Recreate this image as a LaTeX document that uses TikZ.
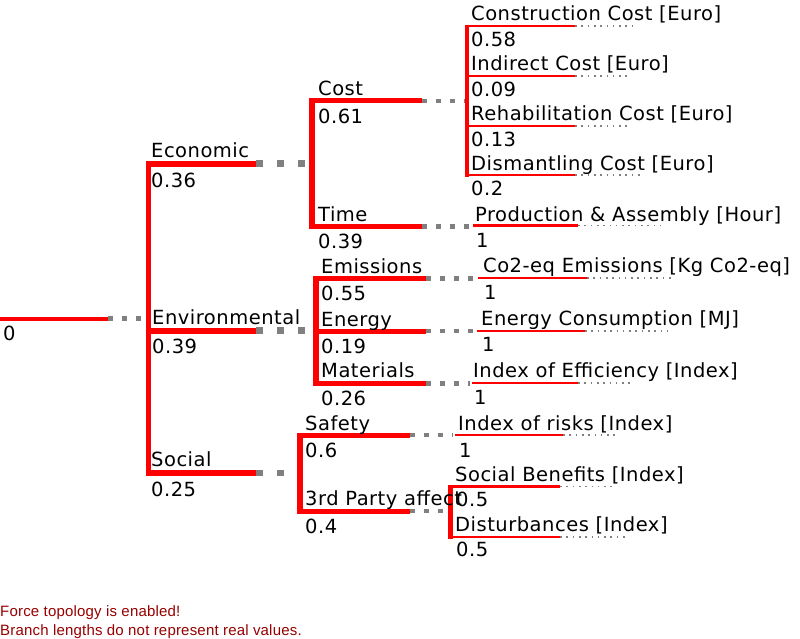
\documentclass[tikz,border=0pt]{standalone}
\usepackage{fontspec}
\setmainfont{DejaVu Sans}[LetterSpace=2.6]
\newfontfamily\notefont{Liberation Sans}[LetterSpace=1.3]
\definecolor{tred}{RGB}{255,0,0}
\definecolor{tgray}{RGB}{128,128,128}
\definecolor{notered}{RGB}{150,0,0}
\begin{document}
\begin{tikzpicture}[x=1pt,y=-1pt,
  lbl/.style={anchor=base west, inner sep=0pt, font=\fontsize{19.5}{23}\selectfont},
  note/.style={anchor=base west, inner sep=0pt, text=notered, font=\notefont\fontsize{15}{17}\selectfont},
  rootline/.style={tred, line width=4pt},
  bar1/.style={tred, line width=6pt},
  bar2/.style={tred, line width=5pt},
  bar3/.style={tred, line width=2.6pt},
  vert1/.style={tred, line width=5pt},
  vert2/.style={tred, line width=6pt},
  vert3/.style={tred, line width=4.5pt},
  dotsA/.style={tgray, line width=6.5pt, dash pattern=on 6.5pt off 14.5pt},
  dotsB/.style={tgray, line width=4.5pt, dash pattern=on 4.5pt off 9.5pt},
  dotsC/.style={tgray, line width=1.6pt, dash pattern=on 1.6pt off 4.7pt}]
\useasboundingbox (0,0) rectangle (800,638);

% ---------- coordinates ----------
% root
\coordinate (r0) at (0,318.5);
\coordinate (r1) at (108,318.5);
\coordinate (r2) at (146,318.5);
% level-1 vertical
\coordinate (v1t) at (148,160.5);
\coordinate (v1b) at (148,476);
% Economic
\coordinate (e0) at (148,163.5);
\coordinate (e1) at (256,163.5);
\coordinate (e2) at (309,163.5);
\coordinate (v2et) at (311.5,98);
\coordinate (v2eb) at (311.5,229);
% Cost
\coordinate (c0) at (311.5,100.8);
\coordinate (c1) at (422,100.8);
\coordinate (c2) at (465,100.8);
\coordinate (v3ct) at (467,24.5);
\coordinate (v3cb) at (467,176.5);
\coordinate (k10) at (467,26);  \coordinate (k11) at (575,26);  \coordinate (k12) at (637,26);
\coordinate (k20) at (467,76);  \coordinate (k21) at (575,76);  \coordinate (k22) at (629,76);
\coordinate (k30) at (467,126); \coordinate (k31) at (575,126); \coordinate (k32) at (629,126);
\coordinate (k40) at (467,175); \coordinate (k41) at (575,175); \coordinate (k42) at (643,175);
% Time
\coordinate (t0) at (311.5,226.5);
\coordinate (t1) at (422,226.5);
\coordinate (t2) at (470,226.5);
\coordinate (p0) at (473,225.5); \coordinate (p1) at (578,225.5); \coordinate (p2) at (661,225.5);
% Environmental
\coordinate (n0) at (148,330.5);
\coordinate (n1) at (256,330.5);
\coordinate (n2) at (313,330.5);
\coordinate (v2nt) at (316,276);
\coordinate (v2nb) at (316,386);
\coordinate (m10) at (316,278.5); \coordinate (m11) at (426,278.5); \coordinate (m12) at (473,278.5);
\coordinate (q10) at (478,278);   \coordinate (q11) at (587,278);   \coordinate (q12) at (671,278);
\coordinate (m20) at (316,331);   \coordinate (m21) at (426,331);   \coordinate (m22) at (475,331);
\coordinate (q20) at (477,331);   \coordinate (q21) at (585,331);   \coordinate (q22) at (668,331);
\coordinate (m30) at (316,383.5); \coordinate (m31) at (426,383.5); \coordinate (m32) at (470,383.5);
\coordinate (q30) at (472,383);   \coordinate (q31) at (578,383);   \coordinate (q32) at (633,383);
% Social
\coordinate (s0) at (148,473);
\coordinate (s1) at (256,473);
\coordinate (s2) at (295,473);
\coordinate (v2st) at (299.5,432.5);
\coordinate (v2sb) at (299.5,514);
\coordinate (f0) at (299.5,435); \coordinate (f1) at (410,435); \coordinate (f2) at (453,435);
\coordinate (g0) at (455,435);   \coordinate (g1) at (563,435); \coordinate (g2) at (616,435);
\coordinate (h0) at (299.5,511); \coordinate (h1) at (410,511); \coordinate (h2) at (448,511);
\coordinate (v3st) at (450.5,485);
\coordinate (v3sb) at (450.5,538.5);
\coordinate (u10) at (450.5,486.5); \coordinate (u11) at (560,486.5); \coordinate (u12) at (614,486.5);
\coordinate (u20) at (450.5,537);   \coordinate (u21) at (560,537);   \coordinate (u22) at (628,537);

% ---------- connectors ----------
\draw[rootline] (r0) -- (r1);
\draw[dotsB] (r1) -- (r2);
\draw[vert1] (v1t) -- (v1b);

\draw[bar1] (e0) -- (e1);
\draw[dotsA] (e1) -- (e2);
\draw[vert2] (v2et) -- (v2eb);
\draw[bar2] (c0) -- (c1);
\draw[dotsB] (c1) -- (c2);
\draw[vert3] (v3ct) -- (v3cb);
\draw[bar3] (k10) -- (k11); \draw[dotsC] (k11) -- (k12);
\draw[bar3] (k20) -- (k21); \draw[dotsC] (k21) -- (k22);
\draw[bar3] (k30) -- (k31); \draw[dotsC] (k31) -- (k32);
\draw[bar3] (k40) -- (k41); \draw[dotsC] (k41) -- (k42);
\draw[bar2] (t0) -- (t1);
\draw[dotsB] (t1) -- (t2);
\draw[bar3] (p0) -- (p1); \draw[dotsC] (p1) -- (p2);

\draw[bar1] (n0) -- (n1);
\draw[dotsA] (n1) -- (n2);
\draw[vert2] (v2nt) -- (v2nb);
\draw[bar2] (m10) -- (m11); \draw[dotsB] (m11) -- (m12);
\draw[bar3] (q10) -- (q11); \draw[dotsC] (q11) -- (q12);
\draw[bar2] (m20) -- (m21); \draw[dotsB] (m21) -- (m22);
\draw[bar3] (q20) -- (q21); \draw[dotsC] (q21) -- (q22);
\draw[bar2] (m30) -- (m31); \draw[dotsB] (m31) -- (m32);
\draw[bar3] (q30) -- (q31); \draw[dotsC] (q31) -- (q32);

\draw[bar1] (s0) -- (s1);
\draw[dotsA] (s1) -- (s2);
\draw[vert2] (v2st) -- (v2sb);
\draw[bar2] (f0) -- (f1); \draw[dotsB] (f1) -- (f2);
\draw[bar3] (g0) -- (g1); \draw[dotsC] (g1) -- (g2);
\draw[bar2] (h0) -- (h1); \draw[dotsB] (h1) -- (h2);
\draw[vert3] (v3st) -- (v3sb);
\draw[bar3] (u10) -- (u11); \draw[dotsC] (u11) -- (u12);
\draw[bar3] (u20) -- (u21); \draw[dotsC] (u21) -- (u22);

% ---------- labels ----------
\node[lbl] (l0) at (3,340) {0};
\node[lbl] (lEco) at (151,157) {Economic};
\node[lbl] (wEco) at (151,187) {0.36};
\node[lbl] (lEnv) at (152,324) {Environmental};
\node[lbl] (wEnv) at (152,353) {0.39};
\node[lbl] (lSoc) at (151,466) {Social};
\node[lbl] (wSoc) at (151,496) {0.25};

\node[lbl] (lCost) at (318,95) {Cost};
\node[lbl] (wCost) at (318,123) {0.61};
\node[lbl] (lTime) at (318,221) {Time};
\node[lbl] (wTime) at (318,248) {0.39};
\node[lbl] (lEmi) at (321,273) {Emissions};
\node[lbl] (wEmi) at (321,300) {0.55};
\node[lbl] (lEne) at (321,326) {Energy};
\node[lbl] (wEne) at (321,353) {0.19};
\node[lbl] (lMat) at (321,377) {Materials};
\node[lbl] (wMat) at (321,405) {0.26};
\node[lbl] (lSaf) at (305,430) {Safety};
\node[lbl] (wSaf) at (305,457) {0.6};
\node[lbl] (lThi) at (305,505) {3rd Party affect};
\node[lbl] (wThi) at (305,533) {0.4};

\node[lbl] (lK1) at (471,20) {Construction Cost [Euro]};
\node[lbl] (wK1) at (471,46) {0.58};
\node[lbl] (lK2) at (471,70) {Indirect Cost [Euro]};
\node[lbl] (wK2) at (471,96) {0.09};
\node[lbl] (lK3) at (471,120) {Rehabilitation Cost [Euro]};
\node[lbl] (wK3) at (471,146.5) {0.13};
\node[lbl] (lK4) at (471,170) {Dismantling Cost [Euro]};
\node[lbl] (wK4) at (471,195) {0.2};
\node[lbl] (lP) at (475,221.5) {Production \& Assembly [Hour]};
\node[lbl] (wP) at (476,247) {1};
\node[lbl] (lQ1) at (483,272.5) {Co2-eq Emissions [Kg Co2-eq]};
\node[lbl] (wQ1) at (484,299) {1};
\node[lbl] (lQ2) at (481,325) {Energy Consumption [MJ]};
\node[lbl] (wQ2) at (482,351.5) {1};
\node[lbl] (lQ3) at (473,377.5) {Index of Efficiency [Index]};
\node[lbl] (wQ3) at (474,404) {1};
\node[lbl] (lG) at (458,430) {Index of risks [Index]};
\node[lbl] (wG) at (459,457) {1};
\node[lbl] (lU1) at (455,481.5) {Social Benefits [Index]};
\node[lbl] (wU1) at (456,506.5) {0.5};
\node[lbl] (lU2) at (455,531.5) {Disturbances [Index]};
\node[lbl] (wU2) at (456,556.5) {0.5};

\node[note] (n1t) at (0,616) {Force topology is enabled!};
\node[note] (n2t) at (0,635) {Branch lengths do not represent real values.};
\end{tikzpicture}
\end{document}
